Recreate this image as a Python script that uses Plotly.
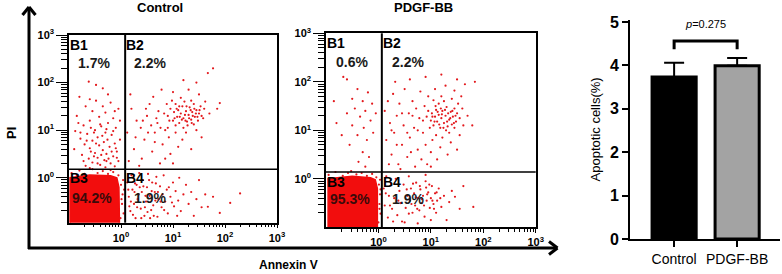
import numpy as np
import plotly.graph_objects as go

W, H = 782, 274
def PX(x): return x / W
def PY(y): return 1 - y / H

# ---------------- data ----------------
# flow cytometry dots, stored as (log10 Annexin V, log10 PI)
ctrl_b1 = [(-0.62,2.02),(-0.35,1.88),(-0.80,1.70),(-0.48,1.62),(-0.20,1.58),(-0.68,1.50),(-0.05,1.45),(-0.55,1.40),
           (-0.30,1.37),(-0.85,1.30),(-0.42,1.28),(-0.15,1.25),(-0.60,1.20),(-0.25,1.15),(-0.72,1.10),(-0.38,1.08),
           (-0.10,1.05),(-0.50,1.00),(-0.88,0.98),(-0.30,0.95),(-0.65,0.92),(-0.18,0.90),(-0.45,0.85),(-0.78,0.82),
           (-0.02,0.80),(-0.55,0.78),(-0.33,0.75),(-0.12,0.72),(-0.70,0.70),(-0.42,0.68),(-0.22,0.65),(-0.60,0.62),
           (-0.90,0.60),(-0.35,0.58),(-0.08,0.55),(-0.50,0.52),(-0.28,0.50),(-0.75,0.48),(-0.15,0.45),(-0.45,0.42),
           (-0.62,0.40),(-0.32,0.37),(-0.05,0.35),(-0.55,0.32),(-0.20,0.30),(-0.40,0.27),(-0.68,0.25),(-0.12,0.24),
           (-0.30,0.22),(-0.48,1.95),(-0.25,1.75),(-0.58,1.05),(-0.36,0.88),(-0.24,0.40),(-0.82,1.15),(-0.02,1.20),
           (-0.52,0.95),(-0.40,1.12),(-0.28,1.02),(-0.15,0.98),(-0.66,0.78),(-0.48,0.72),(-0.26,0.80),(-0.10,0.62),
           (-0.58,0.55),(-0.38,0.48),(-0.18,0.55),(-0.72,0.35),(-0.45,0.30),(-0.28,0.35),(-0.08,0.42),(-0.35,1.50),
           (-0.60,1.65),(-0.12,1.40),(-0.78,0.95),(-0.52,0.45)]
ctrl_b2 = [(0.90,1.30),(0.95,1.45),(1.00,1.20),(1.02,1.38),(1.05,1.55),(1.08,1.28),(1.10,1.42),(1.12,1.15),
           (1.15,1.35),(1.18,1.50),(1.20,1.25),(1.22,1.60),(1.25,1.40),(1.27,1.18),(1.30,1.32),(1.32,1.48),
           (1.35,1.22),(1.37,1.38),(1.40,1.55),(1.42,1.28),(1.45,1.42),(1.48,1.20),(1.50,1.35),(1.53,1.50),
           (1.55,1.30),(0.88,1.55),(0.98,1.62),(1.15,1.68),(1.28,1.10),(1.40,1.12),(1.05,1.10),(1.60,1.45),
           (1.58,1.25),(1.35,1.62),(1.20,1.05),
           (1.03,1.25),(1.07,1.45),(1.13,1.28),(1.17,1.22),(1.23,1.32),(1.26,1.50),(1.31,1.25),(1.34,1.42),
           (1.38,1.30),(1.41,1.45),(1.44,1.35),(1.47,1.28),(1.51,1.42),(1.36,1.15),(1.24,1.20),(1.12,1.50),
           (0.93,1.20),(0.83,1.35),(0.76,1.05),(0.68,1.25),(0.58,1.10),(0.48,1.45),(0.42,1.20),(0.65,0.75),
           (0.90,1.05),
           (0.15,0.35),(0.25,0.60),(0.12,0.95),(0.30,1.20),(0.20,1.45),(0.40,0.40),(0.45,0.80),(0.38,1.05),
           (0.50,1.30),(0.55,1.55),(0.60,0.55),(0.65,0.95),(0.70,1.15),(0.72,1.40),(0.75,0.30),(0.80,0.70),
           (0.85,1.00),(0.62,1.70),(0.78,1.85),(0.92,0.85),(0.95,0.50),(1.00,1.80),(1.05,0.95),(1.10,0.65),
           (1.18,0.80),(1.25,0.95),(1.30,1.85),(1.35,0.60),(1.45,1.00),(1.50,1.75),(1.55,0.85),(1.62,1.60),
           (1.67,2.20),(1.77,2.30),(1.70,1.35),(1.85,1.45),(1.90,1.57),(1.45,2.00),(1.20,2.05),(0.35,0.25),
           (0.18,1.75),(0.85,0.40),(1.00,0.30),(0.52,0.95),(0.28,0.85)]
ctrl_b4 = [(0.12,-0.10),(0.15,-0.40),(0.18,-0.70),(0.20,0.05),(0.22,-0.25),(0.25,-0.55),(0.28,-0.85),(0.30,-0.15),
           (0.32,-0.45),(0.35,0.10),(0.38,-0.65),(0.40,-0.30),(0.42,-0.05),(0.45,-0.80),(0.48,-0.50),(0.50,-0.20),
           (0.52,0.08),(0.55,-0.38),(0.58,-0.68),(0.60,-0.10),(0.62,-0.58),(0.65,-0.30),(0.68,0.02),(0.70,-0.82),
           (0.72,-0.45),(0.75,-0.18),(0.78,-0.62),(0.80,-0.35),(0.82,0.05),(0.85,-0.50),(0.88,-0.25),(0.90,-0.75),
           (0.95,-0.40),(1.00,-0.10),(1.02,-0.60),(1.05,-0.28),(1.10,-0.48),(1.12,0.00),(1.15,-0.70),(1.20,-0.35),
           (1.25,-0.15),(1.30,-0.55),(1.35,-0.30),(1.40,-0.80),(1.45,-0.45),(1.50,-0.05),(1.55,-0.62),(1.62,-0.35),
           (1.67,-0.61),(1.77,-0.40),(1.90,-0.74),(2.10,-0.53),(2.29,-0.33),(0.16,-0.60),(0.26,-0.30),(0.36,-0.20),
           (0.46,-0.62),(0.56,-0.85),(0.66,-0.48),(0.24,0.00),
           (0.14,-0.25),(0.19,-0.50),(0.23,-0.78),(0.27,-0.12),(0.31,-0.62),(0.34,-0.35),(0.39,-0.85),(0.43,-0.18),
           (0.47,-0.38),(0.51,-0.72),(0.54,-0.05),(0.59,-0.28),(0.63,-0.80),(0.67,-0.12),(0.71,-0.30),(0.76,-0.50),
           (0.83,-0.68),(0.92,-0.20),(0.98,-0.52),(1.08,-0.80)]
ctrl_b3_edge = [(-0.95,0.10),(-0.80,0.15),(-0.70,0.08),(-0.55,0.18),(-0.45,0.10),(-0.35,0.14),(-0.25,0.08),
                (-0.15,0.12),(-0.05,0.05),(0.00,-0.15),(0.03,-0.35),(0.02,-0.55),(0.05,-0.75),(-0.01,-0.85),
                (0.04,-0.05),(-0.60,0.20),(-0.85,0.05),(-0.20,0.16),(0.01,-0.45),(0.06,-0.25)]
ctrl_b3_outline = [(-0.98,-0.95),(-0.98,0.00),(-0.60,0.06),(-0.20,0.04),(-0.08,0.00),
                   (-0.04,-0.20),(-0.03,-0.95)]

pdgf_b1 = [(-0.67,2.10),(-0.60,2.05),(-0.40,1.85),(-0.20,1.78),(-0.85,1.60),(-0.50,1.65),(-0.30,1.60),(-0.12,1.55),
           (-0.45,1.45),(-0.25,1.40),(-0.60,1.35),(-0.35,1.28),(-0.15,1.20),(-0.80,1.15),(-0.50,1.10),(-0.28,1.05),
           (-0.10,0.95),(-0.40,0.90),(-0.22,0.80),(-0.55,0.70),(-0.30,0.55),(-0.18,0.45),(-0.38,0.35),(-0.05,1.35),
           (-0.70,0.90),(-0.25,0.25)]
pdgf_b2 = [(1.00,1.20),(1.02,1.35),(1.05,1.10),(1.08,1.28),(1.10,1.42),(1.12,1.18),(1.15,1.32),(1.18,1.05),
           (1.20,1.25),(1.22,1.40),(1.25,1.15),(1.28,1.30),(1.30,1.48),(1.32,1.08),(1.35,1.22),(1.38,1.38),
           (1.40,1.12),(1.42,1.28),(1.45,1.45),(1.48,1.18),(1.50,1.35),(0.95,1.40),(0.98,1.05),(1.15,1.55),
           (1.25,1.60),(1.35,0.95),(1.45,1.05),(1.55,1.25),(1.52,1.55),(1.10,0.90),(0.92,1.28),(1.20,1.70),
           (1.40,1.65),(1.60,1.45),(1.05,1.62),
           (1.03,1.28),(1.07,1.18),(1.13,1.38),(1.16,1.12),(1.21,1.33),(1.24,1.05),(1.27,1.42),(1.31,1.18),
           (1.33,1.35),(1.37,1.25),(1.41,1.40),(1.44,1.15),(1.47,1.30),(1.29,1.00),(1.19,1.45),(1.09,1.50),
           (0.85,1.20),(0.75,1.00),(0.65,1.30),(0.55,0.95),(0.45,1.35),(0.35,0.70),(0.25,1.00),(0.62,0.55),
           (0.12,1.40),(0.15,0.80),(0.18,1.60),(0.22,1.15),(0.25,0.50),(0.28,1.75),(0.30,0.95),(0.35,1.30),
           (0.38,0.30),(0.40,1.55),(0.45,0.70),(0.48,1.10),(0.50,1.85),(0.55,0.45),(0.58,1.35),(0.60,0.85),
           (0.65,1.60),(0.68,1.05),(0.70,0.25),(0.72,1.45),(0.75,0.60),(0.78,1.25),(0.80,1.80),(0.82,0.40),
           (0.85,0.95),(0.88,1.50),(0.90,0.70),(0.93,0.30),(0.95,1.70),(1.00,0.55),(1.03,0.80),(1.08,1.85),
           (1.12,0.40),(1.18,0.65),(1.22,0.85),(1.28,1.92),(1.32,0.50),(1.38,0.75),(1.45,1.82),(1.50,0.60),
           (1.55,0.90),(1.58,1.70),(1.62,1.10),(1.65,1.95),(1.70,1.30),(1.79,1.10),(1.84,2.00),(0.60,2.05),
           (0.90,2.10),(1.20,2.15),(0.20,0.30),(0.42,0.20),(1.00,0.25),(0.32,2.00),(1.50,2.05)]
pdgf_b4 = [(0.10,-0.20),(0.12,-0.55),(0.15,0.05),(0.18,-0.80),(0.20,-0.35),(0.24,-0.10),(0.26,-0.62),(0.30,-0.40),
           (0.33,0.00),(0.36,-0.75),(0.40,-0.25),(0.42,-0.50),(0.45,-0.88),(0.48,-0.12),(0.52,-0.60),(0.55,-0.35),
           (0.58,0.05),(0.60,-0.45),(0.62,-0.20),(0.65,-0.70),(0.68,-0.30),(0.70,-0.55),(0.72,-0.08),(0.75,-0.40),
           (0.78,-0.65),(0.80,-0.22),(0.82,-0.50),(0.85,-0.35),(0.88,-0.78),(0.90,0.08),(0.90,-0.05),(0.91,-0.18),
           (0.92,-0.45),(0.95,-0.28),(0.98,-0.60),(1.00,-0.40),(1.02,-0.15),(1.05,-0.52),(1.08,-0.30),(1.10,-0.70),
           (1.12,-0.45),(1.15,-0.20),(1.20,-0.58),(1.25,-0.35),(1.30,-0.85),(1.35,-0.48),(1.40,-0.25),(1.46,-0.37),
           (1.55,-0.62),(1.62,-0.15),(1.81,-0.58),(0.28,-0.88),(0.50,-0.90),(0.75,-0.92),(1.00,-0.85),
           (0.54,-0.22),(0.63,-0.52),(0.66,-0.10),(0.71,-0.38),(0.74,-0.62),(0.79,-0.15),(0.83,-0.42),(0.87,-0.55),
           (0.93,-0.32),(0.97,-0.12),(1.03,-0.45),(1.06,-0.62),(1.11,-0.28),(1.18,-0.40),(0.58,-0.72),(0.38,-0.45),
           (0.22,-0.55),(0.14,-0.30)]
pdgf_b3_edge = [(-0.95,0.08),(-0.82,0.14),(-0.68,0.06),(-0.52,0.16),(-0.42,0.09),(-0.32,0.12),(-0.22,0.06),
                (-0.12,0.10),(-0.04,0.03),(0.01,-0.12),(0.03,-0.32),(0.02,-0.52),(0.04,-0.72),(0.00,-0.90),
                (0.03,-0.02),(-0.58,0.12),(0.02,-0.62),(0.04,-0.22)]
pdgf_b3_outline = [(-0.96,-1.0),(-0.96,0.00),(-0.50,0.05),(-0.15,0.02),(-0.06,-0.02),
                   (-0.02,-0.20),(-0.02,-1.0)]

# gate thresholds (log10)
ctrl_gate = (0.08, 0.18)
pdgf_gate = (0.065, 0.14)

ctrl_pct = ["1.7%", "2.2%", "94.2%", "1.9%"]
pdgf_pct = ["0.6%", "2.2%", "95.3%", "1.9%"]

# bar chart
groups = ["Control", "PDGF-BB"]
apoptotic = [3.73, 3.99]
apoptotic_sd = [0.33, 0.18]
bar_colors = ["#000000", "#a3a3a3"]
bracket_low, bracket_high = 4.37, 4.56
p_text = "<i>p</i>=0.275"

# ---------------- figure ----------------
fig = go.Figure()
RED = "#e3181c"
FONT = "Arial, Liberation Sans, sans-serif"

def dots(pts, xa, ya):
    a = np.array(pts)
    fig.add_trace(go.Scatter(x=10 ** a[:, 0], y=10 ** a[:, 1], mode="markers",
                             marker=dict(size=2.2, color=RED), xaxis=xa, yaxis=ya,
                             showlegend=False, hoverinfo="skip"))

def blob(pts, xa, ya):
    a = np.array(pts)
    fig.add_trace(go.Scatter(x=10 ** a[:, 0], y=10 ** a[:, 1], mode="lines", fill="toself",
                             fillcolor="#f20d0d", line=dict(width=1.5, color="#f20d0d"),
                             xaxis=xa, yaxis=ya, showlegend=False, hoverinfo="skip"))

blob(ctrl_b3_outline, "x", "y")
for p in (ctrl_b1, ctrl_b2, ctrl_b4, ctrl_b3_edge):
    dots(p, "x", "y")
blob(pdgf_b3_outline, "x2", "y2")
for p in (pdgf_b1, pdgf_b2, pdgf_b4, pdgf_b3_edge):
    dots(p, "x2", "y2")

# bars
fig.add_trace(go.Bar(x=groups, y=apoptotic, width=0.7,
                     marker=dict(color=bar_colors, line=dict(color="black", width=3)),
                     error_y=dict(type="data", array=apoptotic_sd, arrayminus=[0, 0], symmetric=False,
                                  color="black", thickness=2, width=10),
                     xaxis="x3", yaxis="y3", showlegend=False))

dec_vals = [1, 10, 100, 1000]
dec_text = ["<b>10<sup>%d</sup></b>" % i for i in range(4)]
minor_vals = [m * 10.0 ** e for e in range(-1, 3) for m in range(2, 10)]

def flow_x(dom, anchor):
    return dict(type="log", range=[-1, 3], domain=dom, anchor=anchor, showline=True, linewidth=1.5,
                linecolor="black", mirror=True, ticks="outside", ticklen=4, tickwidth=1.2, tickcolor="black",
                tickvals=dec_vals, ticktext=dec_text, tickfont=dict(size=11, color="black", family=FONT),
                showgrid=False, zeroline=False, automargin=False,
                minor=dict(tickvals=minor_vals, ticks="outside", ticklen=3, tickwidth=1, tickcolor="black",
                           showgrid=False))

def flow_y(dom, lo, anchor):
    return dict(type="log", range=[lo, 3], domain=dom, anchor=anchor, showline=True, linewidth=1.5,
                linecolor="black", mirror=True, ticks="outside", ticklen=11, tickwidth=1.2, tickcolor="black",
                tickvals=dec_vals, ticktext=dec_text, tickfont=dict(size=11, color="black", family=FONT),
                showgrid=False, zeroline=False, automargin=False,
                minor=dict(tickvals=minor_vals, ticks="outside", ticklen=6, tickwidth=1, tickcolor="black",
                           showgrid=False))

fig.update_layout(
    width=W, height=H, margin=dict(l=0, r=0, t=0, b=0, pad=0), autosize=False,
    paper_bgcolor="white", plot_bgcolor="white",
    font=dict(family=FONT, color="black"),
    xaxis=flow_x([PX(69), PX(277)], "y"),
    yaxis=flow_y([PY(222.7), PY(35)], -0.945, "x"),
    xaxis2=flow_x([PX(326), PX(535.7)], "y2"),
    yaxis2=flow_y([PY(227.3), PY(33.3)], -1.0, "x2"),
    xaxis3=dict(domain=[PX(630), PX(780)], anchor="y3", range=[-0.7, 1.68], type="category",
                categoryarray=groups, showline=True, linewidth=2, linecolor="black", ticks="outside",
                ticklen=6, tickwidth=2, tickcolor="black", tickfont=dict(size=14, color="black"),
                showgrid=False, zeroline=False, automargin=False),
    yaxis3=dict(domain=[PY(239), PY(19.8)], anchor="x3", range=[0, 5.05], showline=True, linewidth=2,
                linecolor="black", ticks="outside", ticklen=6, tickwidth=2, tickcolor="black",
                tickvals=[0, 1, 2, 3, 4, 5], ticktext=["<b>%d</b>" % i for i in range(6)],
                tickfont=dict(size=16, color="black"), showgrid=False, zeroline=False, automargin=False,
                title=dict(text="Apoptotic cells(%)", font=dict(size=13, color="black"), standoff=6)),
    bargap=0.3,
)

shapes = []
# gate lines
for (gx, gy), xa, ya in ((ctrl_gate, "x", "y"), (pdgf_gate, "x2", "y2")):
    shapes.append(dict(type="line", xref=xa, yref=ya + " domain", x0=10 ** gx, x1=10 ** gx, y0=0, y1=1,
                       line=dict(color="black", width=2)))
    shapes.append(dict(type="line", xref=xa + " domain", yref=ya, x0=0, x1=1, y0=10 ** gy, y1=10 ** gy,
                       line=dict(color="black", width=1.5)))

# significance bracket between the two bars (category indices 0 and 1)
shapes.append(dict(type="path", xref="x3", yref="y3",
                   path="M 0 %g L 0 %g L 1 %g L 1 %g" % (bracket_low, bracket_high, bracket_high, bracket_low),
                   line=dict(color="black", width=3)))

# big axis arrows (paper coords)
def seg(x0, y0, x1, y1, w=3):
    return dict(type="line", xref="paper", yref="paper", x0=PX(x0), y0=PY(y0), x1=PX(x1), y1=PY(y1),
                line=dict(color="black", width=w))
shapes += [seg(29, 249, 29, 7), seg(28, 248, 557, 248),
           seg(22.5, 15, 29, 7), seg(35.5, 15, 29, 7),
           seg(549, 241.5, 557.5, 248), seg(549, 254.5, 557.5, 248)]
fig.update_layout(shapes=shapes)

ann = []
def txt(x, y, t, size=13, xanchor="center", rot=0, color="black"):
    ann.append(dict(x=PX(x), y=PY(y), xref="paper", yref="paper", text=t, showarrow=False,
                    xanchor=xanchor, yanchor="middle", textangle=rot,
                    font=dict(size=size, color=color, family=FONT)))

txt(160, 8, "<b>Control</b>", 13)
txt(423, 8, "<b>PDGF-BB</b>", 13)
txt(11, 133, "<b>PI</b>", 13, rot=-90)
txt(288, 265, "<b>Annexin V</b>", 12)

# quadrant labels
for (bx1, bx2, by1, by2), (cx1, cx2, cy1, cy2), pct in (
        ((68, 124, 44.5, 177.5), (94, 150, 62.5, 198), ctrl_pct),
        ((325, 381, 43, 182), (351.5, 408, 62, 199), pdgf_pct)):
    txt(bx1, by1, "<b>B1</b>", 14, xanchor="left")
    txt(bx2, by1, "<b>B2</b>", 14, xanchor="left")
    txt(bx1, by2, "<b>B3</b>", 14, xanchor="left")
    txt(bx2, by2, "<b>B4</b>", 14, xanchor="left")
    txt(cx1, cy1, "<b>%s</b>" % pct[0], 14, color="#1a1a1a")
    txt(cx2, cy1, "<b>%s</b>" % pct[1], 14, color="#1a1a1a")
    txt(cx1 - 2, cy2, "<b>%s</b>" % pct[2], 14, color="#3a0a0a")
    txt(cx2, cy2, "<b>%s</b>" % pct[3], 14, color="#1a1a1a")

ann.append(dict(x=0.5, y=4.95, xref="x3", yref="y3", text=p_text, showarrow=False,
                font=dict(size=11, color="black", family=FONT), xanchor="center", yanchor="middle"))
fig.update_layout(annotations=ann)

fig.write_html("out.html", config={"displayModeBar": False},
               post_script="document.body.style.margin='0';document.body.style.overflow='hidden';")
